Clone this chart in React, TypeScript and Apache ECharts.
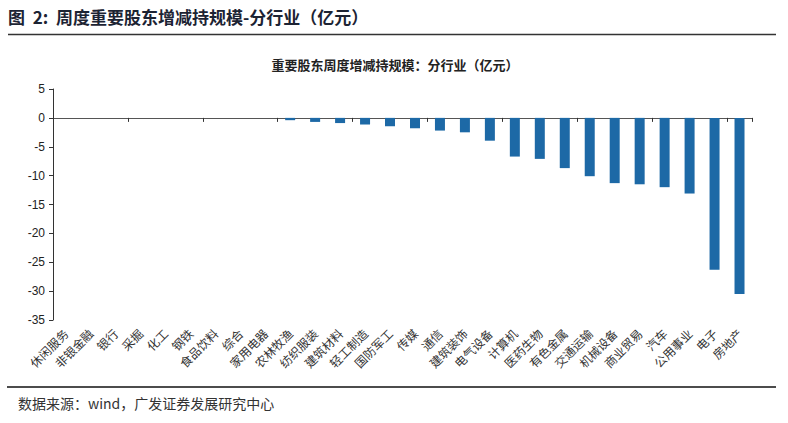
import React, { useEffect, useRef } from "react";
import * as echarts from "echarts";

const categories = [
  "休闲服务", "非银金融", "银行", "采掘", "化工", "钢铁", "食品饮料", "综合", "家用电器", "农林牧渔",
  "纺织服装", "建筑材料", "轻工制造", "国防军工", "传媒", "通信", "建筑装饰", "电气设备", "计算机", "医药生物",
  "有色金属", "交通运输", "机械设备", "商业贸易", "汽车", "公用事业", "电子", "房地产",
];
const values = [
  0, 0, 0, 0, 0, 0, 0, 0, 0, -0.4,
  -0.7, -0.9, -1.15, -1.45, -1.8, -2.2, -2.5, -3.95, -6.7, -7.1,
  -8.7, -10.1, -11.3, -11.5, -12.0, -13.1, -26.3, -30.5,
];
const yMin = -35;
const yMax = 5;
const yStep = 5;

const headerText = "图  2:  周度重要股东增减持规模-分行业（亿元）";
const chartTitle = "重要股东周度增减持规模：分行业（亿元）";
const sourceText = "数据来源：wind，广发证券发展研究中心";

const CJK = '"Noto Sans CJK SC", "Noto Sans", sans-serif';

export default function App() {
  const ref = useRef<HTMLDivElement>(null);
  useEffect(() => {
    const chart = echarts.init(ref.current!, null, { renderer: "svg" });
    chart.setOption({
      animation: false,
      backgroundColor: "#ffffff",
      title: {
        text: chartTitle,
        left: 390,
        textAlign: "center",
        top: 53,
        textStyle: { fontFamily: CJK, fontSize: 13, fontWeight: "bold", color: "#222" },
      },
      grid: { left: 53, right: 36, top: 89, bottom: 103, containLabel: false },
      xAxis: [
        {
          type: "category",
          data: categories,
          position: "bottom",
          axisLine: { show: false, onZero: false },
          axisTick: { show: false },
          axisLabel: {
            interval: 0,
            rotate: 45,
            margin: 11,
            fontFamily: CJK,
            fontSize: 12,
            color: "#333",
          },
        },
        {
          type: "category",
          data: categories,
          position: "bottom",
          axisLine: { show: true, onZero: true, lineStyle: { color: "#555", width: 1 } },
          axisTick: { show: true, inside: false, length: 4, lineStyle: { color: "#333" } },
          axisLabel: { show: false },
        },
      ],
      yAxis: {
        type: "value",
        min: yMin,
        max: yMax,
        interval: yStep,
        axisLine: { show: true, lineStyle: { color: "#333" } },
        axisTick: { show: true, length: 4, lineStyle: { color: "#333" } },
        splitLine: { show: false },
        axisLabel: { fontFamily: '"Liberation Sans", Arial, sans-serif', fontSize: 12, color: "#222", margin: 8 },
      },
      series: [
        {
          type: "bar",
          data: values,
          xAxisIndex: 0,
          barWidth: 10,
          itemStyle: { color: "#1d69a6" },
        },
      ],
      graphic: [
        {
          type: "text",
          left: 8,
          top: 8,
          style: { text: headerText, font: `bold 17px ${CJK}`, fill: "#1c2333" },
        },
        {
          type: "line",
          shape: { x1: 8, y1: 34.5, x2: 776, y2: 34.5 },
          style: { stroke: "#333", lineWidth: 1.5 },
        },
        {
          type: "line",
          shape: { x1: 7, y1: 387, x2: 776, y2: 387 },
          style: { stroke: "#111", lineWidth: 1.5 },
        },
        {
          type: "text",
          left: 18,
          top: 396,
          style: { text: sourceText, font: `14px ${CJK}`, fill: "#333" },
        },
      ],
    });
    return () => chart.dispose();
  }, []);
  return (
    <div
      ref={ref}
      style={{ position: "fixed", left: 0, top: 0, width: 788, height: 423, background: "#fff" }}
    />
  );
}
